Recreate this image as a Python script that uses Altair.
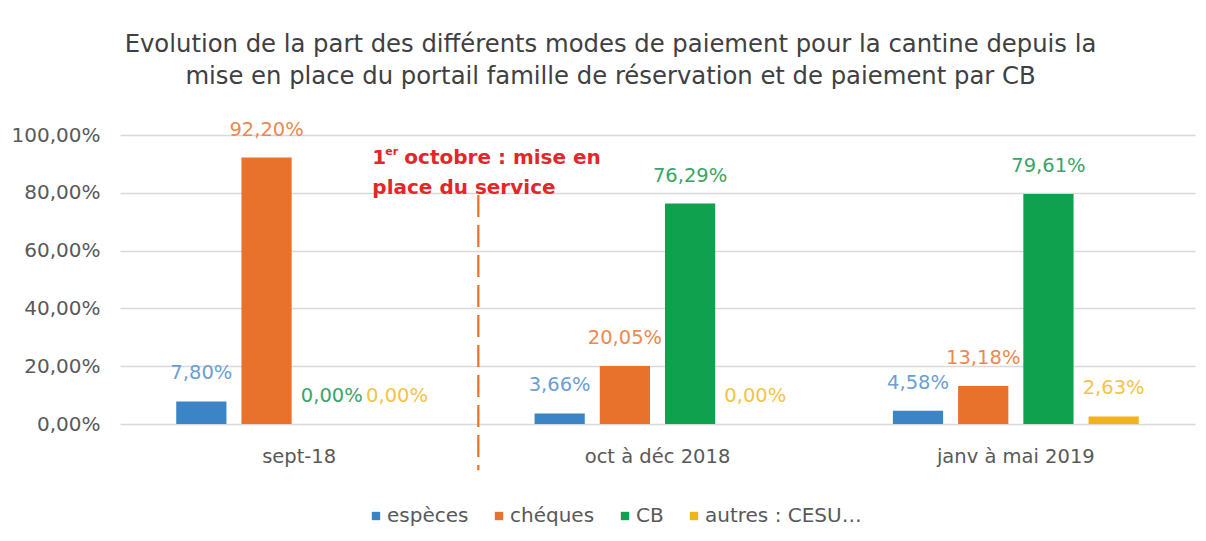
import altair as alt
import pandas as pd

periods = ["sept-18", "oct à déc 2018", "janv à mai 2019"]
modes = ["espèces", "chéques", "CB", "autres : CESU…"]
especes = [7.80, 3.66, 4.58]
cheques = [92.20, 20.05, 13.18]
cb = [0.00, 76.29, 79.61]
autres = [0.00, 0.00, 2.63]
y_ticks = [0, 20, 40, 60, 80, 100]

bar_colors = ["#3b85c6", "#e8712c", "#0fa14e", "#f2b21b"]
label_colors = ["#6b9fd3", "#eb8a50", "#3aa566", "#f2c448"]

rows = []
for i, p in enumerate(periods):
    for m, series in zip(modes, [especes, cheques, cb, autres]):
        rows.append({"period": p, "mode": m, "value": series[i]})
df = pd.DataFrame(rows)

# annotation: boundary between first and second period (index 1)
annot = pd.DataFrame({"pos": [1.0], "top": [79.2], "bottom": [-16.0]})

FONT = "DejaVu Sans"
GREY = "#595959"

x_enc = alt.X("period:N", sort=periods, title=None,
              scale=alt.Scale(paddingInner=0.272, paddingOuter=0.136),
              axis=alt.Axis(labelFontSize=19.5, labelColor=GREY, labelFont=FONT,
                            ticks=False, domain=False, labelPadding=23, labelAngle=0))
xo_enc = alt.XOffset("mode:N", sort=modes,
                     scale=alt.Scale(paddingInner=0.23, paddingOuter=0.115))
y_scale = alt.Scale(domain=[0, 100], nice=False)

bars = alt.Chart(df).mark_bar().encode(
    x=x_enc,
    xOffset=xo_enc,
    y=alt.Y("value:Q", scale=y_scale, title=None,
            axis=alt.Axis(values=y_ticks, ticks=False, domain=False,
                          labelExpr="replace(format(datum.value, '.2f'), '.', ',') + '%'",
                          labelFontSize=20, labelColor=GREY, labelFont=FONT,
                          labelPadding=20, gridColor="#d9d9d9", gridWidth=1.5)),
    color=alt.Color("mode:N", sort=modes,
                    scale=alt.Scale(domain=modes, range=bar_colors),
                    legend=alt.Legend(title=None, orient="none", direction="horizontal",
                                      legendX=246, legendY=371,
                                      symbolType="square", symbolSize=70,
                                      symbolStrokeWidth=0, labelFontSize=20,
                                      labelColor=GREY, labelFont=FONT,
                                      labelOffset=1, columnPadding=20)),
)

labels = alt.Chart(df).transform_calculate(
    lab="replace(format(datum.value, '.2f'), '.', ',') + '%'"
).mark_text(font=FONT, fontSize=19.5, baseline="middle", dy=-28).encode(
    x=alt.X("period:N", sort=periods),
    xOffset=alt.XOffset("mode:N", sort=modes),
    y=alt.Y("value:Q", scale=y_scale),
    text="lab:N",
    color=alt.Color("mode:N", sort=modes,
                    scale=alt.Scale(domain=modes, range=label_colors), legend=None),
)

inner = alt.layer(bars, labels).resolve_scale(color="independent")

xq = alt.X("pos:Q", scale=alt.Scale(domain=[0, 3], nice=False), axis=None)

rule = alt.Chart(annot).mark_rule(color="#e8712c", strokeWidth=2.2,
                                  strokeDash=[22, 8], clip=False).encode(
    x=xq, y=alt.Y("top:Q", scale=y_scale), y2="bottom:Q")

RED = "#e3262b"
t1 = alt.Chart(annot).mark_text(text="1", font=FONT, fontSize=20, fontWeight="bold",
                                color=RED, align="left", baseline="middle",
                                dx=-106, dy=-37).encode(x=xq, y=alt.Y("top:Q", scale=y_scale))
t_er = alt.Chart(annot).mark_text(text="er", font=FONT, fontSize=11, fontWeight="bold",
                                  color=RED, align="left", baseline="middle",
                                  dx=-93, dy=-43).encode(x=xq, y=alt.Y("top:Q", scale=y_scale))
t2 = alt.Chart(annot).mark_text(text="octobre : mise en", font=FONT, fontSize=20,
                                fontWeight="bold", color=RED, align="left",
                                baseline="middle", dx=-74, dy=-37).encode(
    x=xq, y=alt.Y("top:Q", scale=y_scale))
t3 = alt.Chart(annot).mark_text(text="place du service", font=FONT, fontSize=20,
                                fontWeight="bold", color=RED, align="left",
                                baseline="middle", dx=-106, dy=-7).encode(
    x=xq, y=alt.Y("top:Q", scale=y_scale))

chart = alt.layer(inner, rule, t1, t_er, t2, t3).resolve_scale(x="independent").properties(
    width=1075, height=289,
    autosize=alt.AutoSizeParams(type="none"),
    padding={"left": 112, "top": 127, "right": 3, "bottom": 109},
    background="white",
    title=alt.TitleParams(
        text=["Evolution de la part des différents modes de paiement pour la cantine depuis la",
              "mise en place du portail famille de réservation et de paiement par CB"],
        fontSize=24.3, font=FONT, fontWeight="normal", color="#404040",
        lineHeight=32, anchor="middle", frame="group", dx=-47, offset=30),
).configure_view(stroke=None)

chart.save("out.html", embed_options={"renderer": "svg", "actions": False})
